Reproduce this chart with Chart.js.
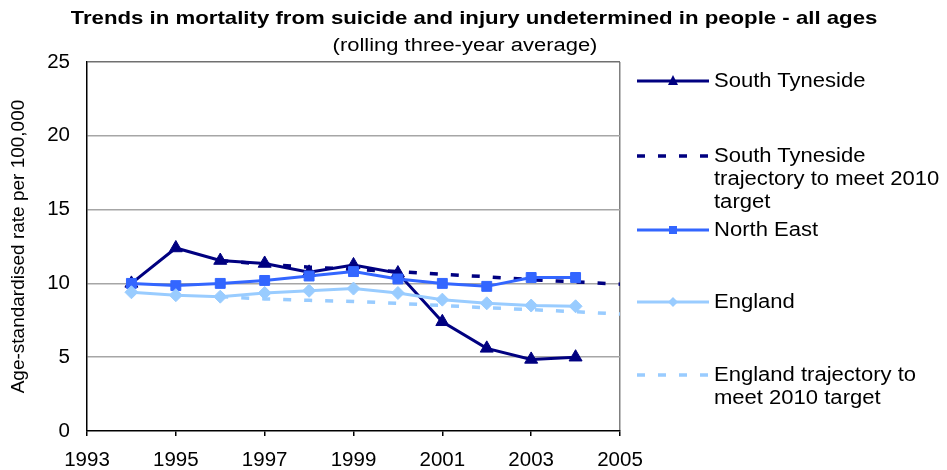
<!DOCTYPE html>
<html>
<head>
<meta charset="utf-8">
<script src="https://cdn.jsdelivr.net/npm/chart.js@4.4.1/dist/chart.umd.min.js"></script>
<style>
    html, body { margin: 0; padding: 0; background: #fff; }
    #wrap { position: relative; width: 947px; height: 470px; overflow: hidden; font-family: "Liberation Sans", Arial, sans-serif; color: #000; }
    #chart { position: absolute; left: 0; top: 0; }
    .title { position: absolute; white-space: nowrap; line-height: 22px; }
    #main-title { left: 474px; top: 7px; font-size: 18.5px; font-weight: bold; transform: translateX(-50%) scaleX(1.2); }
    #sub-title { left: 465px; top: 34px; font-size: 18px; transform: translateX(-50%) scaleX(1.22); }
    .legend-item { position: absolute; left: 636px; }
    .legend-item svg { position: absolute; left: 0; top: 1px; }
    .legend-text { position: absolute; left: 78px; top: 0; white-space: nowrap; font-size: 19.5px; line-height: 23px; transform: scaleX(1.13); transform-origin: left top; }
</style>
</head>
<body>
<div id="wrap">
    <canvas id="chart" width="947" height="470"></canvas>
    <div class="title" id="main-title">Trends in mortality from suicide and injury undetermined in people - all ages</div>
    <div class="title" id="sub-title">(rolling three-year average)</div>
    <div id="legend"></div>
</div>
<script>
// === Data ===
const years = [1994, 1995, 1996, 1997, 1998, 1999, 2000, 2001, 2002, 2003, 2004];
const southTyneside = [10.0, 12.4, 11.55, 11.35, 10.75, 11.25, 10.7, 7.4, 5.6, 4.85, 5.0];
const northEast = [10.0, 9.85, 10.0, 10.2, 10.5, 10.8, 10.3, 10.0, 9.8, 10.4, 10.4];
const england = [9.4, 9.2, 9.1, 9.35, 9.5, 9.65, 9.35, 8.9, 8.65, 8.5, 8.45];

const trajectoryYears = [1996, 1997, 1998, 1999, 2000, 2001, 2002, 2003, 2004, 2005];
const southTynesideTrajectory = [11.55, 11.3, 11.1, 10.95, 10.8, 10.62, 10.45, 10.25, 10.1, 9.95];
const englandTrajectory = [9.1, 8.95, 8.85, 8.78, 8.65, 8.5, 8.35, 8.22, 8.08, 7.92];

const xTicks = [1993, 1995, 1997, 1999, 2001, 2003, 2005];
const yTicks = [0, 5, 10, 15, 20, 25];

// === Colours ===
const NAVY = '#000080';
const MID_BLUE = '#3366ff';
const LIGHT_BLUE = '#99ccff';

const toPoints = (xs, ys) => xs.map((x, i) => ({ x: x, y: ys[i] }));

Chart.defaults.font.family = '"Liberation Sans", Arial, sans-serif';
Chart.defaults.color = '#000';

const ctx = document.getElementById('chart').getContext('2d');
new Chart(ctx, {
    type: 'line',
    data: {
        datasets: [
            {
                label: 'South Tyneside',
                data: toPoints(years, southTyneside),
                borderColor: NAVY,
                backgroundColor: NAVY,
                borderWidth: 3,
                pointStyle: 'triangle',
                pointRadius: 7.5,
                pointBorderWidth: 1,
                order: 4
            },
            {
                label: 'South Tyneside trajectory to meet 2010 target',
                data: toPoints(trajectoryYears, southTynesideTrajectory),
                borderColor: NAVY,
                borderWidth: 3.5,
                borderDash: [8, 13],
                pointRadius: 0,
                order: 3
            },
            {
                label: 'North East',
                data: toPoints(years, northEast),
                borderColor: MID_BLUE,
                backgroundColor: MID_BLUE,
                borderWidth: 3,
                pointStyle: 'rect',
                pointRadius: 7,
                pointBorderWidth: 1,
                order: 2
            },
            {
                label: 'England',
                data: toPoints(years, england),
                borderColor: LIGHT_BLUE,
                backgroundColor: LIGHT_BLUE,
                borderWidth: 3,
                pointStyle: 'rectRot',
                pointRadius: 6.5,
                pointBorderWidth: 1,
                order: 1
            },
            {
                label: 'England trajectory to meet 2010 target',
                data: toPoints(trajectoryYears, englandTrajectory),
                borderColor: LIGHT_BLUE,
                borderWidth: 3.5,
                borderDash: [8, 13],
                pointRadius: 0,
                order: 0
            }
        ]
    },
    options: {
        responsive: false,
        animation: false,
        layout: { padding: { top: 62, right: 327, left: 0, bottom: 0 } },
        plugins: {
            legend: { display: false },
            tooltip: { enabled: false }
        },
        scales: {
            x: {
                type: 'linear',
                min: xTicks[0],
                max: xTicks[xTicks.length - 1],
                afterBuildTicks: (scale) => { scale.ticks = xTicks.map(v => ({ value: v })); },
                afterFit: (scale) => { scale.height = 39; },
                ticks: {
                    font: { size: 20.5 },
                    color: '#000',
                    padding: 12,
                    maxRotation: 0,
                    callback: (v) => String(v)
                },
                grid: {
                    color: (c) => (c.tick && c.tick.value === 2005) ? '#808080' : 'rgba(0,0,0,0)',
                    tickColor: '#000',
                    tickLength: 5,
                    lineWidth: 1.5
                },
                border: { color: '#000', width: 1.5 }
            },
            y: {
                min: 0,
                max: 25,
                afterBuildTicks: (scale) => { scale.ticks = yTicks.map(v => ({ value: v })); },
                afterFit: (scale) => { scale.width = 87; },
                ticks: {
                    font: { size: 20.5 },
                    color: '#000',
                    padding: 17
                },
                grid: {
                    color: (c) => {
                        if (!c.tick || c.tick.value === 0) return 'rgba(0,0,0,0)';
                        return c.tick.value === 25 ? '#707070' : '#a6a6a6';
                    },
                    drawTicks: false,
                    lineWidth: 1.5
                },
                border: { color: '#000', width: 1.5 },
                title: {
                    display: true,
                    text: 'Age-standardised rate per 100,000',
                    font: { size: 19 },
                    color: '#000',
                    padding: { top: 7, bottom: 0 }
                }
            }
        }
    }
});

// === Legend (HTML) ===
const legendItems = [
    { lines: ['South Tyneside'], color: NAVY, dash: false, marker: 'triangle', top: 69 },
    { lines: ['South Tyneside', 'trajectory to meet 2010', 'target'], color: NAVY, dash: true, top: 144 },
    { lines: ['North East'], color: MID_BLUE, dash: false, marker: 'square', top: 218 },
    { lines: ['England'], color: LIGHT_BLUE, dash: false, marker: 'diamond', top: 290 },
    { lines: ['England trajectory to', 'meet 2010 target'], color: LIGHT_BLUE, dash: true, top: 363 }
];

function markerSvg(type, color) {
    if (type === 'triangle') return `<polygon points="37,5 42,15 32,15" fill="${color}"/>`;
    if (type === 'square') return `<rect x="33" y="7" width="8" height="8" fill="${color}"/>`;
    if (type === 'diamond') return `<polygon points="37,6 42,11 37,16 32,11" fill="${color}"/>`;
    return '';
}

const legendEl = document.getElementById('legend');
legendItems.forEach(item => {
    const div = document.createElement('div');
    div.className = 'legend-item';
    div.style.top = item.top + 'px';
    const dash = item.dash ? 'stroke-dasharray="8 13"' : '';
    const width = item.dash ? 3.5 : 3;
    div.innerHTML =
        `<svg width="76" height="22"><line x1="1" y1="11" x2="73" y2="11" stroke="${item.color}" stroke-width="${width}" ${dash}/>` +
        markerSvg(item.marker, item.color) + `</svg>` +
        `<div class="legend-text">${item.lines.join('<br>')}</div>`;
    legendEl.appendChild(div);
});
</script>
</body>
</html>
